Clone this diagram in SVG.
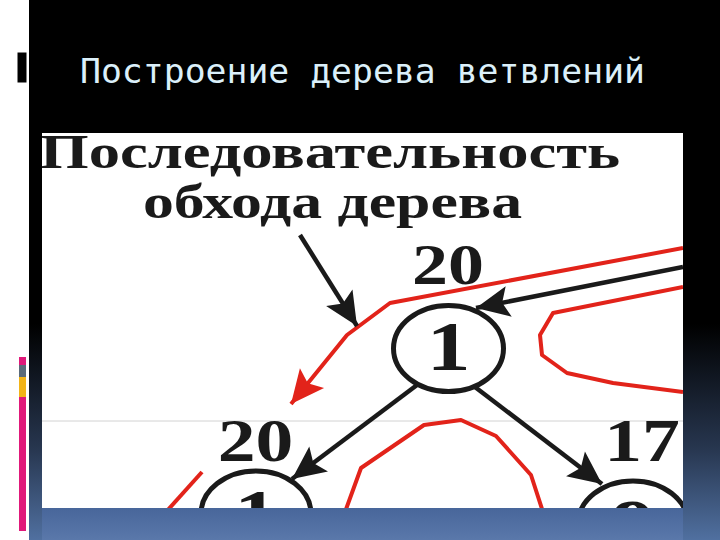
<svg xmlns="http://www.w3.org/2000/svg" width="720" height="540" viewBox="0 0 720 540">
  <defs>
    <linearGradient id="bg" x1="0" y1="0" x2="0" y2="540" gradientUnits="userSpaceOnUse">
      <stop offset="0" stop-color="#000000"/>
      <stop offset="0.6" stop-color="#000000"/>
      <stop offset="0.83" stop-color="#27364f"/>
      <stop offset="1" stop-color="#5070a0"/>
    </linearGradient>
    <linearGradient id="band" x1="0" y1="508" x2="0" y2="540" gradientUnits="userSpaceOnUse">
      <stop offset="0" stop-color="#48669a"/>
      <stop offset="1" stop-color="#5a78aa"/>
    </linearGradient>
    <clipPath id="img">
      <rect x="42" y="133" width="641" height="375"/>
    </clipPath>
    <marker id="ahB" markerUnits="userSpaceOnUse" markerWidth="40" markerHeight="40" viewBox="-32 -16 36 32" refX="0" refY="0" orient="auto">
      <path d="M0,0 L-30,-14 L-24,0 L-30,14 Z" fill="#1a1a1a"/>
    </marker>
    <marker id="ahR" markerUnits="userSpaceOnUse" markerWidth="40" markerHeight="40" viewBox="-32 -16 36 32" refX="0" refY="0" orient="auto">
      <path d="M0,0 L-30,-14 L-24,0 L-30,14 Z" fill="#e2231a"/>
    </marker>
    <style>
      .ser { font-family: "Liberation Serif", "Times New Roman", serif; font-weight: bold; fill: #1a1a1a; }
      .blk { fill: none; stroke: #1a1a1a; stroke-width: 4.5; }
      .red { fill: none; stroke: #e2231a; stroke-width: 4; stroke-linejoin: round; }
      .node { fill: none; stroke: #1a1a1a; stroke-width: 5; }
    </style>
  </defs>

  <!-- slide background -->
  <rect x="0" y="0" width="720" height="540" fill="#ffffff"/>
  <rect x="29" y="0" width="691" height="540" fill="url(#bg)"/>
  <rect x="17" y="52" width="10" height="31" fill="#000000" stroke="#ffffff" stroke-width="1"/>
  <g id="accent">
    <rect x="19" y="357" width="7" height="8" fill="#e0197a"/>
    <rect x="19" y="365" width="7" height="12" fill="#5b6b7a"/>
    <rect x="19" y="377" width="7" height="20" fill="#f2b418"/>
    <rect x="19" y="397" width="7" height="134" fill="#e0197a"/>
  </g>

  <text x="80" y="83" font-family="DejaVu Sans Mono, Liberation Mono, monospace" font-size="34" fill="#dbf0fa" textLength="565" lengthAdjust="spacingAndGlyphs">Построение дерева ветвлений</text>

  <!-- picture -->
  <rect x="42" y="133" width="641" height="375" fill="#ffffff"/>
  <line x1="42" y1="421" x2="683" y2="421" stroke="#d2d2d2" stroke-width="1"/>

  <g clip-path="url(#img)">
    <text class="ser" x="40" y="168" font-size="48" textLength="580" lengthAdjust="spacingAndGlyphs">Последовательность</text>
    <text class="ser" x="143" y="218" font-size="48" textLength="379" lengthAdjust="spacingAndGlyphs">обхода дерева</text>

    <g id="connectors">
      <polyline class="red" points="683,248 390,303 347,335 291,404" marker-end="url(#ahR)"/>
      <polyline class="red" points="683,287 553,313 540,335 542,355 567,373 613,383 683,392"/>
      <polyline class="red" points="345,512 361,468 424,425 461,420 496,436 531,475 543,512"/>
      <line class="red" x1="202" y1="472" x2="166" y2="512"/>
      <line class="blk" x1="300" y1="235" x2="357" y2="326" marker-end="url(#ahB)"/>
      <line class="blk" x1="683" y1="267" x2="476" y2="308" marker-end="url(#ahB)"/>
      <line class="blk" x1="417" y1="385" x2="292" y2="479" marker-end="url(#ahB)"/>
      <line class="blk" x1="475" y1="387" x2="602" y2="484" marker-end="url(#ahB)"/>
    </g>

    <g id="node-root">
      <ellipse class="node" cx="448.5" cy="348.5" rx="55" ry="43"/>
      <text class="ser" font-size="70" text-anchor="middle" transform="translate(448.5,370) scale(1.25,1)">1</text>
      <text class="ser" font-size="58" text-anchor="middle" transform="translate(448,284) scale(1.24,1)">20</text>
    </g>
    <g id="node-left">
      <ellipse class="node" cx="256" cy="514" rx="55" ry="43"/>
      <text class="ser" font-size="70" text-anchor="middle" transform="translate(256,538) scale(1.25,1)">1</text>
      <text class="ser" font-size="62" text-anchor="middle" transform="translate(255.5,461) scale(1.22,1)">20</text>
    </g>
    <g id="node-right">
      <ellipse class="node" cx="633" cy="524" rx="55" ry="43"/>
      <text class="ser" font-size="70" text-anchor="middle" transform="translate(633,548) scale(1.25,1)">9</text>
      <text class="ser" font-size="62" text-anchor="middle" transform="translate(642,461) scale(1.22,1)">17</text>
    </g>
  </g>

  <rect x="42" y="508" width="641" height="32" fill="url(#band)"/>
</svg>
